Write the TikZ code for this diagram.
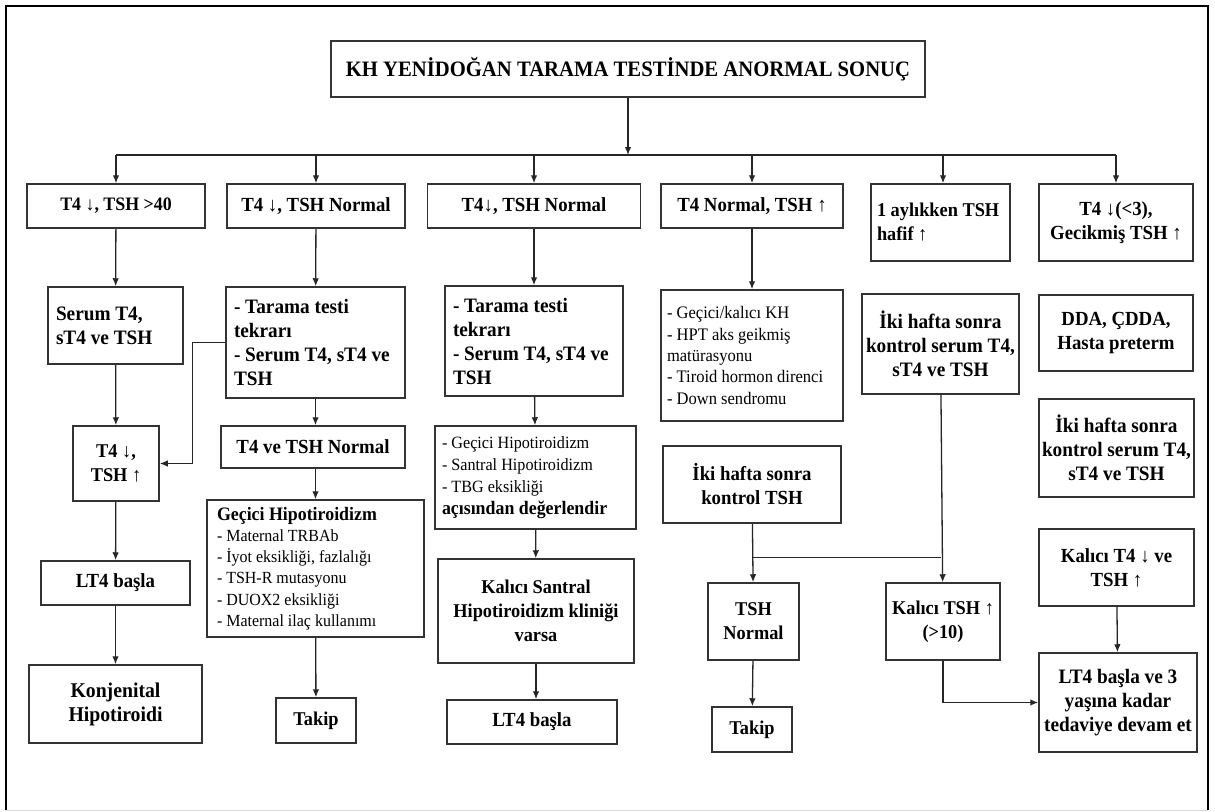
\documentclass[tikz,border=0pt]{standalone}
\usepackage{fontspec}
\setmainfont[FakeStretch=0.94]{Liberation Serif}
\usepackage{tikz}
\usetikzlibrary{arrows.meta,positioning,calc}
\newcommand{\fsz}[2][24]{\fontsize{#2}{#1}\selectfont}

\begin{document}
\begin{tikzpicture}[x=1pt, y=-1pt,
  box/.style={draw=black!80, line width=1.5pt, inner sep=0pt, align=center,
    font=\fsz{20}\bfseries},
  lbox/.style={box, align=flush left, inner xsep=8pt},
  sz/.style 2 args={minimum width=#1pt, minimum height=#2pt},
  ln/.style={line width=1.3pt, draw=black!85},
  >={Latex[length=8pt,width=6.5pt]}]
  \path[fill=white] (0,0) rectangle (1215,811);
  \draw[line width=2.5pt] (6,810) -- (6,6) -- (1208,6) -- (1208,810);
  \draw[gray!30] (6,810) -- (1208,810);
  % top
  \node[box, sz={594}{56}, font=\fsz{22}\bfseries] (top) at (628,69)
    {KH YENİDOĞAN TARAMA TESTİNDE ANORMAL SONUÇ};
  % first row
  \node[box, sz={178}{44}, font=\fsz{19}\bfseries] (a1) at (116,206) {T4 ↓, TSH >40};
  \node[box, sz={178}{44}] (b1) at (316,206) {T4 ↓, TSH Normal};
  \node[box, sz={213}{44}] (c1) at (534,206) {T4↓, TSH Normal};
  \node[box, sz={182}{44}] (d1) at (752,206) {T4 Normal, TSH ↑};
  \node[lbox, sz={139}{77}, text width=127pt, inner xsep=6pt, font=\fsz{19.5}\bfseries] (e1) at (940.5,222.5)
    {1 aylıkken TSH\\hafif ↑};
  \node[box, sz={154}{77}] (f1) at (1116,222.5) {T4 ↓(<3),\\Gecikmiş TSH ↑};
  % second row
  \node[lbox, sz={135}{77}, text width=119pt, font=\fsz{20.5}\bfseries] (a2) at (115.5,325.5)
    {Serum T4,\\sT4 ve TSH};
  \node[lbox, sz={179}{111}, text width=163pt, font=\fsz{20.5}\bfseries] (b2) at (315.5,342.5)
    {- Tarama testi\\tekrarı\\- Serum T4, sT4 ve\\TSH};
  \node[lbox, sz={178}{110}, text width=162pt, font=\fsz{20.5}\bfseries] (c2) at (534,341)
    {- Tarama testi\\tekrarı\\- Serum T4, sT4 ve\\TSH};
  \node[lbox, sz={182}{131}, text width=170pt, inner xsep=6pt, font={\fsz[21.3]{17.6}}] (d2) at (752,355.5)
    {- Geçici/kalıcı KH\\- HPT aks geikmiş\\matürasyonu\\- Tiroid hormon direnci\\- Down sendromu};
  \node[box, sz={157}{100}, font=\fsz{20.5}\bfseries] (e2) at (940.5,344)
    {İki hafta sonra\\kontrol serum T4,\\sT4 ve TSH};
  \node[box, sz={154}{76}] (f2) at (1116,333) {DDA, ÇDDA,\\Hasta preterm};
  % third row
  \node[box, sz={86}{75}, font=\fsz{19.5}\bfseries] (a3) at (116,463.5) {T4 ↓,\\TSH ↑};
  \node[box, sz={184}{42}] (b3) at (313,447) {T4 ve TSH Normal};
  \node[lbox, sz={201}{103}, text width=187pt, inner xsep=7pt, font={\fsz[22]{17.2}}] (c3) at (535.5,477.5)
    {- Geçici Hipotiroidizm\\- Santral Hipotiroidizm\\- TBG eksikliği\\\fsz[22]{19}\bfseries açısından değerlendir};
  \node[box, sz={178}{77}] (d3) at (752,484.5) {İki hafta sonra\\kontrol TSH};
  \node[box, sz={155}{98}, font=\fsz{20.5}\bfseries] (f3) at (1116.5,448)
    {İki hafta sonra\\kontrol serum T4,\\sT4 ve TSH};
  % fourth row
  \node[box, sz={149}{44}] (a4) at (115.5,583) {LT4 başla};
  \node[lbox, sz={217}{137}, text width=197pt, inner xsep=10pt, font={\fsz[21.3]{17}}] (b4) at (315.5,568.5)
    {{\fsz[21.3]{19}\bfseries Geçici Hipotiroidizm}\\- Maternal TRBAb\\- İyot eksikliği, fazlalığı\\- TSH-R mutasyonu\\- DUOX2 eksikliği\\- Maternal ilaç kullanımı};
  \node[box, sz={196}{104}, font=\fsz{19.5}\bfseries] (c4) at (536,611)
    {Kalıcı Santral\\Hipotiroidizm kliniği\\varsa};
  \node[box, sz={91}{77}, font=\fsz{19.5}\bfseries] (d4) at (753.5,621.5) {TSH\\Normal};
  \node[box, sz={114}{77}, font=\fsz{19.5}\bfseries] (e3) at (943,621.5) {Kalıcı TSH ↑\\(>10)};
  \node[box, sz={155}{77}] (f4) at (1116.5,567.5) {Kalıcı T4 ↓ ve\\TSH ↑};
  % fifth row
  \node[box, sz={173}{78}, font=\fsz{21}\bfseries] (a5) at (115.5,704) {Konjenital\\Hipotiroidi};
  \node[box, sz={80}{45}, font=\fsz{19.5}\bfseries] (b5) at (316,720.5) {Takip};
  \node[box, sz={170}{44}] (c5) at (532,722) {LT4 başla};
  \node[box, sz={80}{45}, font=\fsz{19.5}\bfseries] (d5) at (752,729.5) {Takip};
  \node[box, sz={158}{99}, font=\fsz{20.5}\bfseries] (f5) at (1118,702.5)
    {LT4 başla ve 3\\yaşına kadar\\tedaviye devam et};
  % connectors
  \foreach \n/\x in {a/116,b/316,c/534,d/752,e/943,f/1116}
    \coordinate (t\n) at (\x,155);
  \draw[ln] (ta) -- (tf);
  \draw[ln, ->] (top.south) -- (top.south |- ta);
  \foreach \n in {a,b,c,d,e,f}
    \draw[ln, ->] (t\n) -- (t\n |- \n1.north);
  \foreach \u/\v in {a1/a2,a2/a3,a3/a4,a4/a5,b1/b2,b4/b5,c1/c2,c2/c3,c3/c4,d1/d2,d3/d4,d4/d5,e2/e3,f4/f5}
    \draw[ln, ->] (\u) -- (\v);
  \draw[ln, ->] (b2.south) -- (b2.south |- b3.north);
  \draw[ln, ->] (b3.south -| b4.north) -- (b4.north);
  \draw[ln, ->] (c4.south) -- (c4.south |- c5.north);
  \draw[ln, ->] (b2.west) -- ++(-33,0) |- (a3.east);
  \coordinate (jd) at ($(d3.south)!0.58!(d4.north)$);
  \draw[ln] (jd) -- (jd -| e2.south);
  \draw[ln, ->] (e3.south) |- (f5.west);
\end{tikzpicture}
\end{document}
